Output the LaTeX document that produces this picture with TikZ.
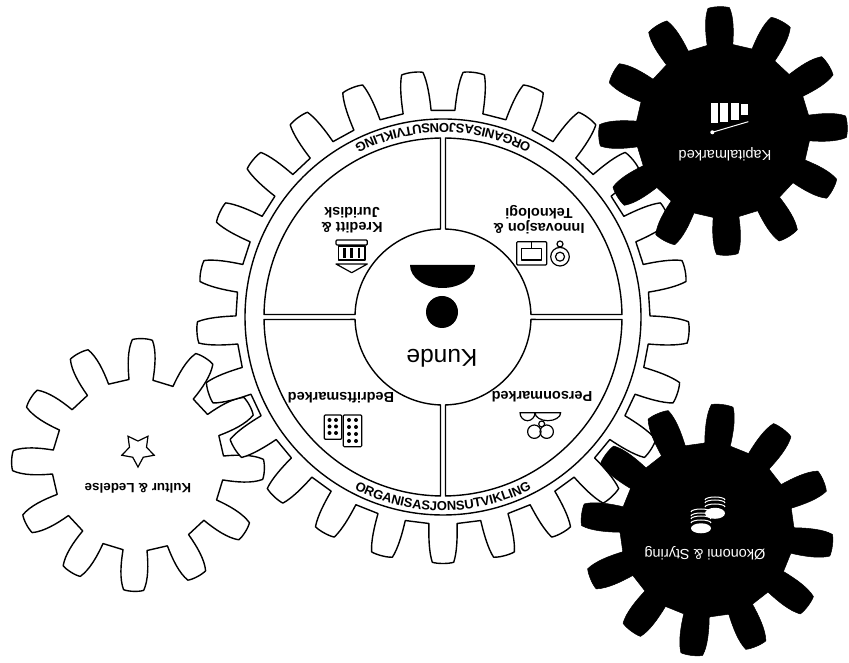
\documentclass[tikz,border=0pt]{standalone}
\usepackage{fontspec}
\setmainfont{Liberation Sans}
\usetikzlibrary{arrows.meta,positioning,calc,shapes.geometric,decorations.text}

\tikzset{
  gearline/.style={draw=black, line width=1.4pt, line join=round},
  gearblack/.style={draw=black, fill=black, line width=0.5pt, line join=round},
  iconline/.style={draw=black, line width=1.2pt, line join=round},
  iconwhite/.style={draw=white, line width=1pt},
  wheellabel/.style={font=\fontsize{14.5}{15}\selectfont\bfseries, rotate=180, align=center, inner sep=0pt},
  darklabel/.style={font=\fontsize{14.5}{15}\selectfont, text=white, rotate=180, inner sep=0pt},
}

% args: style, centre, teeth, offset, root r, tip r, half angles base/mid/tip
\newcommand{\drawgear}[9]{%
  \draw[#1, shift={(#2)}] ({#4-#7}:#5)
    \foreach \k [evaluate=\k as \a using {#4+\k*360/#3}] in {1,...,#3} {
      -- ({\a-360/#3-#7}:#5)
      .. controls ({\a-360/#3-#8*1.1}:{#5+0.35*(#6-#5)}) and ({\a-360/#3-#8}:{#5+0.72*(#6-#5)}) .. ({\a-360/#3-#9}:{#6-1.5})
      .. controls ({\a-360/#3-#9*0.5}:{#6}) and ({\a-360/#3+#9*0.5}:{#6}) .. ({\a-360/#3+#9}:{#6-1.5})
      .. controls ({\a-360/#3+#8}:{#5+0.72*(#6-#5)}) and ({\a-360/#3+#8*1.1}:{#5+0.35*(#6-#5)}) .. ({\a-360/#3+#7}:#5)
    } -- cycle;
}

\begin{document}
\begin{tikzpicture}[x=1pt, y=1pt]
  \useasboundingbox (0,0) rectangle (849,663);

  % gears
  \drawgear{gearline}{138,198}{12}{88}{86}{127}{8}{7.2}{4.6}
  \drawgear{gearline, fill=white}{443,346}{25}{97.2}{207}{247}{3.9}{3.4}{2.5}

  % rim and hub
  \coordinate (hub) at (443,346);
  \draw[gearline] (hub) circle[radius=198];
  \foreach \q in {0,90,180,270} {
    \draw[gearline, shift={(hub)}] ({\q+1.6}:88) -- ({\q+0.8}:179)
      arc[start angle={\q+0.8}, end angle={\q+89.2}, radius=179]
      -- ({\q+88.4}:88) arc[start angle={\q+88.4}, end angle={\q+1.6}, radius=88] -- cycle;
  }
  \path[shift={(hub)}, postaction={decorate, decoration={text along path, text align={align=center},
    text={|\fontsize{13}{13}\selectfont\bfseries|ORGANISASJONSUTVIKLING}}}]
    (55:193.5) arc[start angle=55, end angle=125, radius=193.5];
  \path[shift={(hub)}, postaction={decorate, decoration={text along path, text align={align=center},
    text={|\fontsize{13}{13}\selectfont\bfseries|ORGANISASJONSUTVIKLING}}}]
    (235:193.5) arc[start angle=235, end angle=305, radius=193.5];

  % black gears
  \drawgear{gearblack}{723,532}{12}{92}{87}{125}{8.5}{7.4}{5}
  \drawgear{gearblack}{707,133}{12}{83}{87}{127}{8.5}{7.4}{5}

  % Kunde
  \fill (410,398) arc[start angle=180, end angle=360, x radius=32.5, y radius=23] -- cycle;
  \fill (442,351) circle[radius=16];
  \node[font=\fontsize{24.5}{25}\selectfont, rotate=180, inner sep=0pt] (kunde) at (442,305) {Kunde};

  % labels
  \node[wheellabel] (kreditt) at (352,443) {Kreditt \&\\Juridisk};
  \node[wheellabel] (innovasjon) at (539,443) {Innovasjon \&\\Teknologi};
  \node[wheellabel] (person) at (542,266) {Personmarked};
  \node[wheellabel] (bedrift) at (341,265) {Bedriftsmarked};
  \node[wheellabel, font=\fontsize{13.4}{14}\selectfont\bfseries] (kultur) at (138,175) {Kultur \& Ledelse};
  \node[darklabel] (kapital) at (725,509) {Kapitalmarked};
  \node[darklabel] (okonomi) at (705,110) {Økonomi \& Styring};

  % Kreditt icon
  \draw[iconline, rounded corners=1pt] (336,423) rectangle (367.3,418);
  \draw[iconline] (338.3,417) rectangle (365,403);
  \foreach \x in {344.5,351.7,358.8} \draw[line width=2.5pt] (\x,415) -- (\x,405);
  \draw[iconline] (336,399) -- (367.3,399) -- (351.7,390.3) -- cycle;

  % Innovasjon icon
  \draw[iconline, rounded corners=1pt] (516.7,421.3) rectangle (546.7,398);
  \draw[iconline] (521.7,414.7) rectangle (541.7,403);
  \draw[iconline] (531.7,421) -- (531.7,414.7);
  \draw[iconline] (560,406.3) circle[radius=9.3];
  \draw[iconline] (560,406.3) circle[radius=4.5];
  \draw[iconline] (560,419) circle[radius=3];

  % Person icon
  \draw[iconline] (520,250.3) -- (535,250.3) arc[start angle=0, end angle=-180, x radius=7.5, y radius=8] -- cycle;
  \draw[iconline] (535,250.3) -- (560.7,250.3) arc[start angle=0, end angle=-180, x radius=12.85, y radius=8] -- cycle;
  \draw[iconline] (534.3,231.3) circle[radius=6.7];
  \draw[iconline] (546.7,231.3) circle[radius=6.7];
  \draw[iconline] (541.7,239) circle[radius=3];

  % Bedrift icon
  \draw[iconline, rounded corners=1pt] (324.3,248) rectangle (341.7,223.7);
  \draw[iconline, rounded corners=1pt] (343.3,248) rectangle (361.7,216.3);
  \foreach \y in {243,236.5,230} \foreach \x in {329.5,336} \fill (\x,\y) circle[radius=2];
  \foreach \y in {243,236,229,222} \foreach \x in {349,356} \fill (\x,\y) circle[radius=2];

  % Kultur star
  \node[star, star points=5, star point ratio=1.9, draw, line width=1.2pt, rotate=180, minimum size=34pt, inner sep=0pt] (stjerne) at (138,213) {};

  % Kapital icon
  \fill[white] (710.7,560.3) rectangle (718.3,539.7);
  \fill[white] (720,559.7) rectangle (728.3,540.7);
  \fill[white] (731,559.7) rectangle (739,543);
  \fill[white] (741,559) rectangle (748.3,548);
  \draw[iconwhite] (712.3,530.7) -- (748.3,541.3);
  \fill[white] (712.3,530.7) circle[radius=2];

  % Okonomi icon
  \fill[white] (715,149.7) ellipse[x radius=10, y radius=5.5];
  \fill[white] (701,134.7) ellipse[x radius=10, y radius=5];
  \foreach \y in {156,160,163} \draw[iconwhite] (705,\y) arc[start angle=180, end angle=0, x radius=10, y radius=3];
  \foreach \y in {140,144,147,151} \draw[iconwhite] (691,\y) arc[start angle=180, end angle=0, x radius=10, y radius=3];
\end{tikzpicture}
\end{document}
